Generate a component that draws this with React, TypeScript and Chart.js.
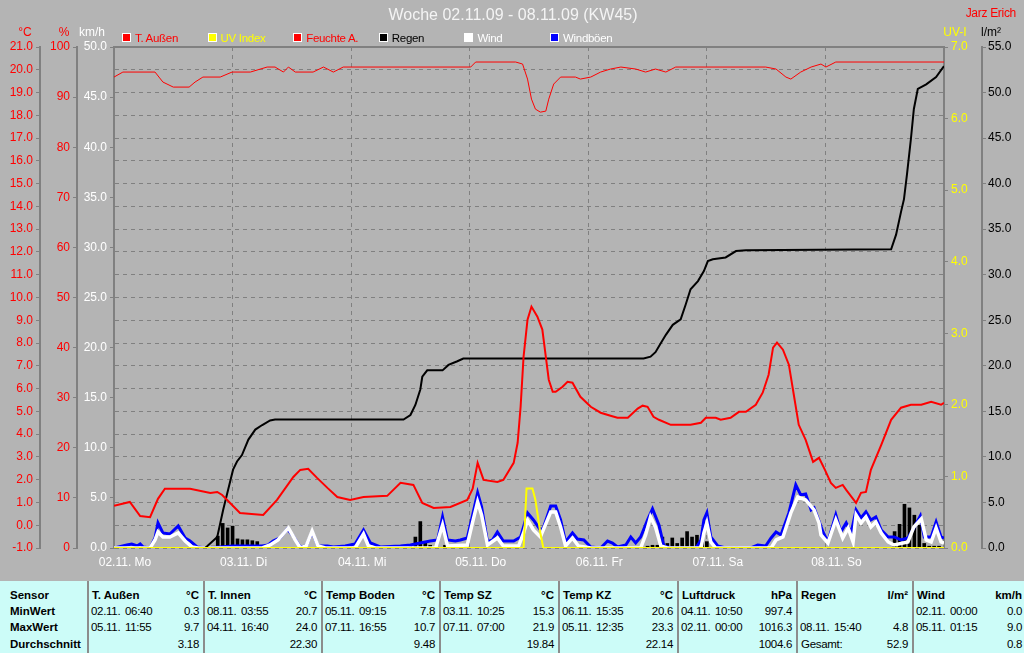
import React, { useEffect, useRef } from 'react';
import { Chart, registerables } from 'chart.js';

Chart.register(...registerables);

const REGULAR = "'Liberation Sans', Arial, sans-serif";

// ---- X axis (hours since 02.11. 00:00) ----
const xTickLabels = ['02.11. Mo', '03.11. Di', '04.11. Mi', '05.11. Do', '06.11. Fr', '07.11. Sa', '08.11. So'];

// ---- T. Außen (°C) ----
const tempHours = [0, 3.2, 5.3, 7.3, 8.9, 10.3, 15.4, 19.5, 20.9, 21.9, 22.9, 25.5, 30.2, 33.0, 36.3, 37.7, 39.3, 41.1, 43.2, 45.2, 47.8, 50.5, 55.3, 58.0, 60.6, 62.4, 64.7, 68.1, 71.5, 72.6, 73.6, 74.8, 77.6, 78.8, 80.9, 81.7, 82.3, 82.9, 83.7, 84.5, 85.7, 86.7, 87.4, 88.0, 88.8, 89.4, 90.8, 91.8, 92.8, 94.4, 96.5, 98.5, 100.5, 101.9, 104.0, 106.0, 107.0, 108.0, 109.2, 110.3, 112.7, 116.7, 118.8, 119.8, 121.8, 122.8, 124.8, 126.5, 127.9, 129.9, 131.3, 132.5, 133.4, 134.2, 135.4, 136.6, 137.6, 138.6, 140.0, 141.5, 142.7, 143.9, 145.1, 146.1, 147.5, 148.2, 150.2, 151.2, 152.2, 153.2, 155.3, 157.3, 159.3, 161.3, 163.4, 165.4, 167.4, 168];
const tempValues = [0.85, 1.02, 0.4, 0.35, 1.16, 1.6, 1.6, 1.42, 1.46, 1.33, 1.11, 0.54, 0.45, 1.11, 2.12, 2.43, 2.48, 2.08, 1.64, 1.24, 1.11, 1.24, 1.29, 1.86, 1.77, 0.98, 0.76, 0.8, 1.11, 1.6, 2.74, 1.99, 1.9, 1.99, 2.74, 3.62, 5.2, 7.4, 9.03, 9.6, 9.16, 8.59, 7.4, 6.39, 5.86, 5.86, 6.08, 6.3, 6.26, 5.64, 5.2, 4.94, 4.81, 4.72, 4.72, 5.12, 5.25, 5.2, 4.76, 4.63, 4.41, 4.41, 4.5, 4.72, 4.72, 4.63, 4.72, 4.98, 4.98, 5.29, 5.82, 6.61, 7.8, 8.02, 7.71, 7.05, 5.73, 4.41, 3.75, 2.78, 2.96, 2.43, 1.86, 1.64, 1.77, 1.55, 0.98, 1.42, 1.46, 2.43, 3.53, 4.63, 5.16, 5.29, 5.29, 5.42, 5.29, 5.38];

// ---- Feuchte A. (%) ----
const humHours = [0, 1.8, 8.3, 9.9, 12, 15.2, 16.4, 18, 21.5, 23.9, 27.6, 31, 32.6, 34.3, 35.3, 36.7, 40.3, 42.4, 44.4, 46.4, 72.2, 73.2, 81.3, 82.7, 83.7, 84.5, 85.3, 86.3, 87.4, 88, 89, 90.4, 93.4, 94.4, 96.5, 98.5, 100.5, 102.6, 105.6, 107.6, 109.6, 111.7, 113.7, 131.9, 134, 136, 137, 139, 141.1, 143.1, 144.1, 146.1, 168];
const humValues = [94, 95, 95, 93, 92, 92, 93, 94, 94, 95, 95, 96, 96, 95, 96, 95, 95, 96, 95, 96, 96, 97, 97, 96.6, 93.6, 89.6, 87.6, 87, 87.2, 89.6, 92.6, 94, 94, 93.6, 94, 95, 95.6, 96, 95.6, 95, 95.6, 95, 96, 96, 95.6, 94, 93.6, 95, 96, 96.6, 96, 97, 97];

// ---- Regen cumulative (l/m²) ----
const rainSumHours = [0, 18.4, 18.85, 20.9, 22.1, 23.1, 24.1, 24.9, 25.9, 27.2, 28.6, 30, 31.6, 32.6, 58.6, 60, 61, 62, 62.4, 63.4, 66.5, 67.7, 69.5, 70.7, 107.2, 108.6, 109.6, 110.7, 111.7, 113.1, 114.7, 115.7, 116.7, 118.2, 119.4, 120.2, 121.2, 123.8, 125.9, 127.9, 157.3, 158.3, 159.3, 159.9, 160.5, 161.3, 161.9, 162.7, 164.4, 166.4, 168];
const rainSumValues = [0, 0, 0.2, 1.2, 4.2, 6.4, 8.6, 9.5, 10.2, 11.9, 13.0, 13.5, 14.0, 14.1, 14.1, 14.6, 15.7, 17.4, 18.8, 19.5, 19.5, 20.1, 20.5, 20.8, 20.8, 21.0, 21.5, 22.5, 23.4, 24.5, 25.1, 26.7, 28.4, 29.3, 30.4, 31.5, 31.7, 31.9, 32.6, 32.7, 32.8, 34.4, 36.9, 38.3, 41.0, 44.9, 48.2, 50.4, 50.9, 51.7, 52.9];

// ---- Regen hourly bars (l/m²) ----
const rainBarHours = [19, 20, 21, 22, 23, 24, 25, 26, 27, 28, 29, 30, 31, 59, 60, 61, 62, 63, 64, 67, 68, 69, 70, 108, 109, 110, 111, 112, 113, 114, 115, 116, 117, 118, 119, 120, 122, 124, 125, 126, 158, 159, 160, 161, 162, 163, 164, 165, 166, 167];
const rainBarValues = [0.1, 0.2, 1.3, 2.7, 2.2, 2.4, 1.0, 0.9, 0.9, 0.8, 0.7, 0.3, 0.3, 0.1, 0.4, 1.2, 2.9, 0.7, 0.3, 0.3, 0.3, 0.3, 0.3, 0.2, 0.3, 0.3, 1.2, 0.5, 1.1, 0.5, 1.1, 1.8, 1.2, 1.4, 1.4, 0.7, 0.1, 0.1, 0.1, 0.1, 1.8, 2.6, 4.8, 4.4, 3.6, 2.5, 0.5, 0.2, 0.2, 0.2];

// ---- Windböen (km/h) ----
const gustHours = [0, 2.6, 3.6, 4.7, 5.3, 5.9, 7.3, 8.3, 8.9, 9.9, 11.3, 13.0, 14.4, 15.4, 16.8, 18.8, 24.1, 30.0, 31.2, 32.2, 33.6, 35.1, 36.1, 37.7, 38.9, 40.1, 41.3, 43.2, 44.4, 46.8, 48.8, 50.5, 51.9, 53.9, 58.0, 60.0, 62.0, 64.0, 65.5, 66.5, 67.5, 69.1, 70.1, 71.5, 72.6, 73.6, 74.4, 75.6, 76.6, 77.6, 78.8, 80.9, 82.3, 82.9, 83.7, 84.9, 86.3, 86.9, 88.4, 89.4, 90.4, 91.4, 92.8, 93.8, 95.1, 96.5, 98.5, 99.9, 100.9, 101.9, 103.6, 104.6, 105.6, 106.6, 108.0, 109.0, 110.3, 111.3, 112.7, 117.8, 118.8, 119.4, 120.0, 120.8, 122.2, 123.8, 128.9, 130.3, 131.9, 133.0, 134.0, 135.0, 136.6, 138.0, 139.0, 140.0, 141.1, 141.7, 143.5, 144.5, 146.1, 147.1, 148.2, 149.2, 150.2, 151.2, 152.2, 153.2, 154.2, 155.3, 156.7, 157.9, 159.3, 160.7, 161.9, 163.2, 164.0, 165.4, 166.4, 167.4, 168];
const gustValues = [0, 0.3, 0.4, 0.2, 0.4, 0.1, 0, 1.0, 2.5, 1.5, 1.4, 2.2, 1.0, 0.7, 0.1, 0, 0.2, 0.2, 0.3, 0.7, 1.0, 1.9, 1.3, 0.1, 0.2, 1.6, 0.2, 0.2, 0.1, 0.2, 0.4, 1.8, 0.5, 0.1, 0.2, 0.3, 0.5, 0.7, 0.8, 3.1, 0.8, 0.7, 0.8, 1.0, 3.3, 5.5, 4.1, 0.6, 0.8, 1.6, 0.7, 0.7, 1.1, 2.1, 3.5, 2.8, 1.8, 2.0, 4.2, 4.2, 2.8, 0.6, 1.5, 0.9, 0.8, 0.1, 0, 0.7, 0.5, 0.1, 0.3, 1.1, 0.5, 1.1, 2.8, 3.9, 2.3, 0.2, 0, 0, 0.8, 2.8, 3.5, 1.1, 0.2, 0, 0, 0.3, 0.2, 1.0, 1.6, 1.3, 3.5, 6.3, 5.3, 5.4, 3.8, 4.0, 1.6, 0.6, 3.3, 1.6, 2.5, 1.5, 3.8, 3.0, 3.6, 2.8, 3.1, 1.8, 1.1, 1.1, 0.8, 1.0, 2.0, 3.2, 1.1, 1.1, 2.6, 1.1, 1.0];

// ---- Wind (km/h) ----
const windHours = [0, 7.3, 8.3, 8.9, 9.9, 11.3, 13.0, 14.4, 15.8, 17, 30.0, 31.6, 33.2, 35.3, 36.7, 37.7, 38.9, 40.1, 41.3, 42.8, 48.8, 50.5, 51.5, 52.9, 65.1, 66.5, 67.5, 71.5, 72.6, 73.6, 74.4, 75.6, 77.6, 78.8, 81.9, 82.9, 83.7, 84.9, 86.3, 88.4, 89.4, 90.4, 91.4, 92.8, 94.0, 96.5, 106.6, 107.6, 108.6, 109.6, 110.7, 112, 118.8, 119.4, 120.0, 120.8, 121.8, 133.0, 134.0, 135.4, 137.0, 138.4, 140.0, 141.7, 142.7, 143.1, 144.5, 146.1, 147.5, 148.6, 149.6, 150.2, 151.2, 152.2, 153.2, 154.2, 155.3, 156.7, 157.9, 160.7, 161.9, 163.4, 164.4, 165.4, 166.4, 167.4, 168];
const windValues = [0, 0, 0.8, 1.6, 1.1, 1.1, 1.5, 0.7, 0.1, 0, 0, 0.3, 0.8, 2.0, 0.8, 0, 0.2, 1.7, 0.2, 0, 0, 1.4, 0.2, 0, 0, 2.3, 0.2, 0.3, 2.6, 4.6, 3.3, 0.3, 1.0, 0.2, 0.2, 1.5, 2.8, 1.8, 1.1, 3.6, 3.6, 2.1, 0.2, 1.0, 0.2, 0, 0, 1.3, 3.1, 2.1, 0.2, 0, 0, 1.5, 2.5, 0.6, 0, 0, 0.8, 1.1, 3.5, 5.1, 4.8, 3.8, 2.5, 1.3, 0.5, 2.8, 1.0, 2.0, 0.6, 3.3, 2.5, 3.1, 2.1, 2.6, 1.5, 0.6, 0.3, 0.6, 2.1, 2.9, 0.8, 0.6, 2.0, 0.6, 0.5];

// ---- UV Index ----
const uvHours = [0, 82.9, 83.5, 84.7, 85.3, 86.3, 86.9, 168];
const uvValues = [0, 0, 0.83, 0.83, 0.67, 0.21, 0, 0];

// ---- Legend ----
const legendLabels = ['T. Außen', 'UV Index', 'Feuchte A.', 'Regen', 'Wind', 'Windböen'];
const legendBoxColors = ['#ff0000', '#ffff00', '#ff0000', '#000000', '#ffffff', '#0000ff'];
const legendTextColors = ['#ff0000', '#ffff00', '#ff0000', '#000000', '#ffffff', '#ffffff'];

// ---- Statistics table ----
const tableRowLabels = ['Sensor', 'MinWert', 'MaxWert', 'Durchschnitt'];
const tableSensors = ['T. Außen', 'T. Innen', 'Temp Boden', 'Temp SZ', 'Temp KZ', 'Luftdruck', 'Regen', 'Wind'];
const tableUnits = ['°C', '°C', '°C', '°C', '°C', 'hPa', 'l/m²', 'km/h'];
const tableMinDates = ['02.11.', '08.11.', '05.11.', '03.11.', '06.11.', '04.11.', '', '02.11.'];
const tableMinTimes = ['06:40', '03:55', '09:15', '10:25', '15:35', '10:50', '', '00:00'];
const tableMinValues = ['0.3', '20.7', '7.8', '15.3', '20.6', '997.4', '', '0.0'];
const tableMaxDates = ['05.11.', '04.11.', '07.11.', '07.11.', '05.11.', '02.11.', '08.11.', '05.11.'];
const tableMaxTimes = ['11:55', '16:40', '16:55', '07:00', '12:35', '00:00', '15:40', '01:15'];
const tableMaxValues = ['9.7', '24.0', '10.7', '21.9', '23.3', '1016.3', '4.8', '9.0'];
const tableAvgLabels = ['', '', '', '', '', '', 'Gesamt:', ''];
const tableAvgValues = ['3.18', '22.30', '9.48', '19.84', '22.14', '1004.6', '52.9', '0.8'];
const tableSeparators = [88, 204, 322, 440, 559, 678, 797, 913];

const pts = (xs: number[], ys: number[]) => xs.map((x, i) => ({ x, y: ys[i] }));

const framePlugin = {
  id: 'topFrame',
  afterDatasetsDraw(chart: any) {
    const { ctx, chartArea } = chart;
    ctx.save();
    ctx.strokeStyle = '#808080';
    ctx.lineWidth = 2;
    ctx.beginPath();
    ctx.moveTo(chartArea.left - 1, chartArea.top);
    ctx.lineTo(chartArea.right + 1, chartArea.top);
    ctx.stroke();
    ctx.restore();
  },
};

function Txt(props: { x: number; y: number; text: string; color?: string; size?: number; align?: string; bold?: boolean; spacing?: number }) {
  const { x, y, text, color = '#000', size = 12, align = 'left', bold = false, spacing = 0 } = props;
  const style: any = {
    position: 'absolute', top: y - 10, height: 20, lineHeight: '20px', fontSize: size, color,
    fontWeight: bold ? 'bold' : 'normal', fontFamily: REGULAR, whiteSpace: 'pre', letterSpacing: spacing,
  };
  if (align === 'left') style.left = x;
  else if (align === 'right') style.right = 1024 - x;
  else { style.left = x - 300; style.width = 600; style.textAlign = 'center'; }
  return <div style={style}>{text}</div>;
}

export default function App() {
  const ref = useRef<HTMLCanvasElement>(null);

  useEffect(() => {
    const canvas = ref.current;
    if (!canvas) return;
    const tickFont = { family: REGULAR, size: 12 };
    const axisCommon = (w: number) => ({
      afterFit: (s: any) => { s.width = w; },
    });
    const chart = new Chart(canvas, {
      type: 'line',
      data: {
        datasets: [
          { type: 'line', label: 'UV Index', data: pts(uvHours, uvValues), yAxisID: 'uv', borderColor: '#ffff00', borderWidth: 2, pointRadius: 0, tension: 0, order: 0 },
          { type: 'line', label: 'T. Außen', data: pts(tempHours, tempValues), yAxisID: 'temp', borderColor: '#ff0000', borderWidth: 2, pointRadius: 0, tension: 0, order: 1 },
          { type: 'line', label: 'Feuchte A.', data: pts(humHours, humValues), yAxisID: 'hum', borderColor: '#ff0000', borderWidth: 1, pointRadius: 0, tension: 0, order: 2 },
          { type: 'line', label: 'Regen', data: pts(rainSumHours, rainSumValues), yAxisID: 'rain', borderColor: '#000000', borderWidth: 2, pointRadius: 0, tension: 0, order: 3 },
          { type: 'line', label: 'Wind', data: pts(windHours, windValues), yAxisID: 'wind', borderColor: '#ffffff', borderWidth: 3.5, pointRadius: 0, tension: 0, order: 4 },
          { type: 'line', label: 'Windböen', data: pts(gustHours, gustValues), yAxisID: 'wind', borderColor: '#0000ff', borderWidth: 3, pointRadius: 0, tension: 0, order: 5 },
          { type: 'bar', label: 'Regen h', data: pts(rainBarHours, rainBarValues), yAxisID: 'rain', backgroundColor: '#000000', borderWidth: 0, barThickness: 3, order: 6 } as any,
        ],
      },
      options: {
        responsive: false,
        animation: false,
        events: [],
        layout: { padding: { top: 47, left: 0, right: 0, bottom: 0 } },
        plugins: { legend: { display: false }, tooltip: { enabled: false }, title: { display: false } },
        scales: {
          x: {
            type: 'linear', position: 'bottom', min: 0, max: 168, offset: false,
            afterFit: (s: any) => { s.height = 30; },
            ticks: {
              stepSize: 24, autoSkip: false, maxRotation: 0, color: '#ffffff', font: tickFont, padding: 7, labelOffset: 11,
              callback: (v: any) => xTickLabels[Math.round(Number(v) / 24)] ?? '',
            },
            grid: { color: '#808080', lineWidth: 1, drawTicks: false, offset: false },
            border: { display: false, dash: [4, 4] },
          },
          temp: {
            type: 'linear', position: 'left', min: -1, max: 21, weight: 2, ...axisCommon(40),
            ticks: { stepSize: 1, autoSkip: false, color: '#ff0000', font: tickFont, padding: 3, callback: (v: any) => Number(v).toFixed(1) },
            grid: { drawOnChartArea: true, color: '#808080', lineWidth: 1, tickLength: 4, tickColor: '#808080', tickBorderDash: [] },
            border: { display: true, color: '#808080', width: 2, dash: [4, 4] },
          },
          hum: {
            type: 'linear', position: 'left', min: 0, max: 100, weight: 1, ...axisCommon(37),
            ticks: { stepSize: 10, autoSkip: false, color: '#ff0000', font: tickFont, padding: 3, callback: (v: any) => Number(v).toFixed(0) },
            grid: { drawOnChartArea: false, color: '#808080', tickLength: 4 },
            border: { display: true, color: '#808080', width: 2 },
          },
          wind: {
            type: 'linear', position: 'left', min: 0, max: 50, weight: 0, ...axisCommon(37),
            ticks: { stepSize: 5, autoSkip: false, color: '#ffffff', font: tickFont, padding: 3, callback: (v: any) => Number(v).toFixed(1) },
            grid: { drawOnChartArea: false, color: '#808080', tickLength: 4 },
            border: { display: true, color: '#808080', width: 2 },
          },
          uv: {
            type: 'linear', position: 'right', min: 0, max: 7, weight: 0, ...axisCommon(38),
            ticks: { stepSize: 1, autoSkip: false, color: '#ffff00', font: tickFont, padding: 3, callback: (v: any) => Number(v).toFixed(1) },
            grid: { drawOnChartArea: false, color: '#808080', tickLength: 4 },
            border: { display: true, color: '#808080', width: 2 },
          },
          rain: {
            type: 'linear', position: 'right', min: 0, max: 55, weight: 1, ...axisCommon(42),
            ticks: { stepSize: 5, autoSkip: false, color: '#000000', font: tickFont, padding: 2, callback: (v: any) => Number(v).toFixed(1) },
            grid: { drawOnChartArea: false, color: '#808080', tickLength: 4 },
            border: { display: true, color: '#808080', width: 2 },
          },
        },
      } as any,
      plugins: [framePlugin],
    });
    return () => chart.destroy();
  }, []);

  const rows = [610.5, 627, 643.5];
  const vs = 11.5;
  const ls = -0.3;
  return (
    <div style={{ position: 'fixed', left: 0, top: 0, width: 1024, height: 653, background: '#b4b4b4', overflow: 'hidden' }}>
      <canvas ref={ref} width={1024} height={578} style={{ position: 'absolute', left: 0, top: 0, width: 1024, height: 578 }} />
      <Txt x={513} y={15} text="Woche 02.11.09 - 08.11.09 (KW45)" color="#f4f4f4" size={16} align="center" />
      <Txt x={1016} y={12.5} text="Jarz Erich" color="#ff0000" size={12} align="right" spacing={-0.3} />
      <Txt x={25} y={32} text="°C" color="#ff0000" size={12} align="center" />
      <Txt x={64} y={32} text="%" color="#ff0000" size={12} align="center" />
      <Txt x={92} y={32} text="km/h" color="#ffffff" size={12} align="center" />
      <Txt x={955} y={32} text="UV-I" color="#ffff00" size={12} align="center" />
      <Txt x={991} y={32} text="l/m²" color="#000000" size={12} align="center" />
      {legendLabels.map((l, i) => {
        const left = 122 + i * 85.6;
        return (
          <React.Fragment key={l}>
            <div style={{ position: 'absolute', left, top: 33, width: 7, height: 7, background: legendBoxColors[i], border: '1px solid #ffffff' }} />
            <Txt x={left + 13} y={38} text={l} color={legendTextColors[i]} size={11.5} spacing={-0.3} />
          </React.Fragment>
        );
      })}
      <div style={{ position: 'absolute', left: 0, top: 581, width: 1024, height: 72, background: '#ccfcf8' }} />
      {tableSeparators.map((x) => (
        <div key={x} style={{ position: 'absolute', left: x - 1, top: 581, width: 2, height: 72, background: '#8c8c8c' }} />
      ))}
      {tableRowLabels.map((l, r) => (
        <Txt key={l} x={10} y={r === 0 ? 595 : rows[r - 1]} text={l} bold size={11.5} />
      ))}
      {tableSensors.map((s, i) => {
        const left = tableSeparators[i];
        const right = i + 1 < tableSeparators.length ? tableSeparators[i + 1] - 5 : 1022;
        return (
          <React.Fragment key={s}>
            <Txt x={left + 4} y={595} text={s} bold size={11.5} />
            <Txt x={right} y={595} text={tableUnits[i]} bold size={11.5} align="right" />
            <Txt x={left + 3} y={rows[0]} text={tableMinDates[i]} size={vs} spacing={ls} />
            <Txt x={left + 37} y={rows[0]} text={tableMinTimes[i]} size={vs} spacing={ls} />
            <Txt x={right} y={rows[0]} text={tableMinValues[i]} size={vs} spacing={ls} align="right" />
            <Txt x={left + 3} y={rows[1]} text={tableMaxDates[i]} size={vs} spacing={ls} />
            <Txt x={left + 37} y={rows[1]} text={tableMaxTimes[i]} size={vs} spacing={ls} />
            <Txt x={right} y={rows[1]} text={tableMaxValues[i]} size={vs} spacing={ls} align="right" />
            <Txt x={left + 4} y={rows[2]} text={tableAvgLabels[i]} size={vs} spacing={ls} />
            <Txt x={right} y={rows[2]} text={tableAvgValues[i]} size={vs} spacing={ls} align="right" />
          </React.Fragment>
        );
      })}
    </div>
  );
}
